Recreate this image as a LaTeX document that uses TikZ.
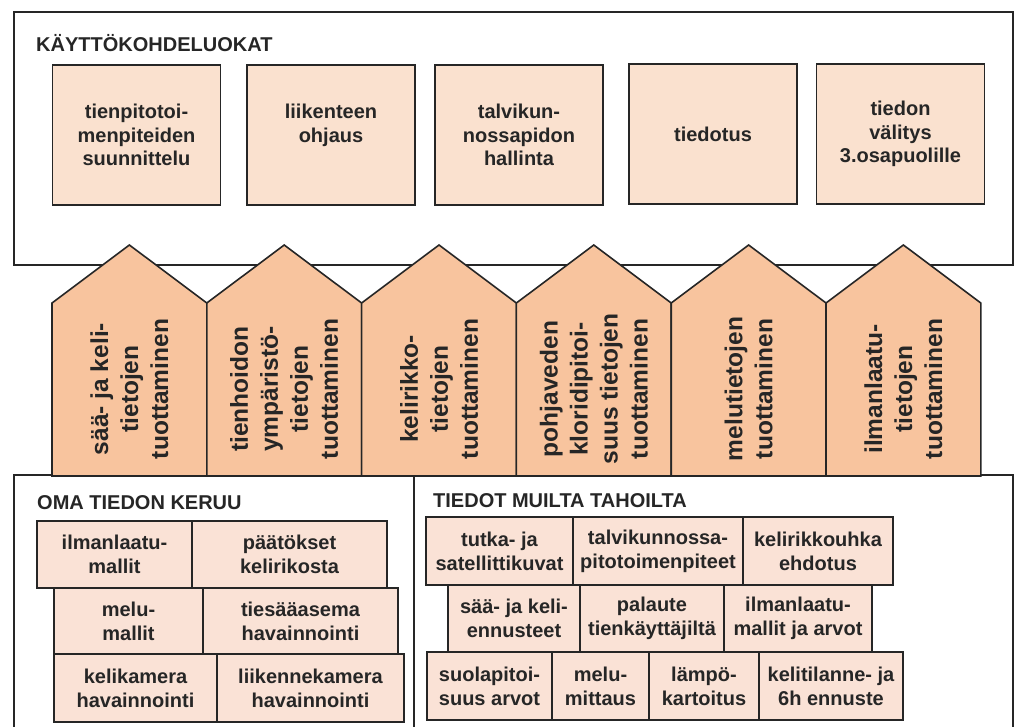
\documentclass[tikz,border=0pt]{standalone}
\usepackage{fontspec}
\setmainfont{Liberation Sans}
\definecolor{boxfill}{RGB}{250,225,207}
\definecolor{housefill}{RGB}{248,196,158}
\definecolor{brickfill}{RGB}{250,226,214}
\definecolor{edge}{RGB}{38,38,38}
\tikzstyle{frame}=[draw=edge,line width=1.6pt]
\tikzstyle{usebox}=[rectangle,draw=edge,line width=1.6pt,fill=boxfill,minimum width=168pt,minimum height=140pt,inner sep=0pt,align=center,text=edge,font=\fontsize{20}{23.5}\selectfont\bfseries]
\tikzstyle{house}=[draw=edge,line width=1.6pt,fill=housefill,line join=miter]
\tikzstyle{htext}=[rotate=90,align=center,inner sep=0pt,text=edge,font=\fontsize{24.5}{30}\selectfont\bfseries]
\tikzstyle{brick}=[rectangle,draw=edge,line width=1.6pt,fill=brickfill,inner sep=0pt,align=center,text=edge,font=\fontsize{20}{24}\selectfont\bfseries]
\tikzstyle{title}=[anchor=west,inner sep=0pt,text=edge,font=\fontsize{20}{24}\selectfont\bfseries]

\begin{document}
\begin{tikzpicture}[x=1pt,y=-1pt]
\useasboundingbox (0,0) rectangle (1017,727);
\draw[frame] (14,12) rectangle (1013,265);
\node[title] (top) at (36,43) {KÄYTTÖKOHDELUOKAT};
\node[usebox] (U1) at (136.5,135) {tienpitotoi-\\menpiteiden\\suunnittelu};
\node[usebox] (U2) at (331,135) {liikenteen\\ohjaus\\\mbox{}};
\node[usebox] (U3) at (519,135) {talvikun-\\nossapidon\\hallinta};
\node[usebox] (U4) at (713,134) {tiedotus};
\node[usebox] (U5) at (900.5,134) {tiedon\\välitys\\3.osapuolille};
\draw[frame] (14,727) |- (414,475) -- (414,727);
\draw[frame] (414,475) -| (1013,727);
\foreach \i in {0,...,5}
  \draw[house] (52+\i*154.8,476) -- (52+\i*154.8,303) -- (129.4+\i*154.8,245) -- (206.8+\i*154.8,303) -- (206.8+\i*154.8,476) -- cycle;
\node[htext] (H1) at (129.4,389) {sää- ja keli-\\tietojen\\tuottaminen};
\node[htext] (H2) at (284.2,389) {tienhoidon\\ympäristö-\\tietojen\\tuottaminen};
\node[htext] (H3) at (439,389) {kelirikko-\\tietojen\\tuottaminen};
\node[htext] (H4) at (593.8,389) {pohjaveden\\kloridipitoi-\\suus tietojen\\tuottaminen};
\node[htext] (H5) at (748.6,389) {melutietojen\\tuottaminen};
\node[htext] (H6) at (903.4,389) {ilmanlaatu-\\tietojen\\tuottaminen};
\node[title] (own) at (37,503) {OMA TIEDON KERUU};
\node[brick,minimum width=155pt,minimum height=67pt] (L1) at (114.5,554.5) {ilmanlaatu-\\mallit};
\node[brick,minimum width=195pt,minimum height=67pt] (L2) at (289.5,554.5) {päätökset\\kelirikosta};
\node[brick,minimum width=149pt,minimum height=66pt] (L3) at (128.5,621) {melu-\\mallit};
\node[brick,minimum width=195pt,minimum height=66pt] (L4) at (300.5,621) {tiesääasema\\havainnointi};
\node[brick,minimum width=163pt,minimum height=68pt] (L5) at (135.5,688) {kelikamera\\havainnointi};
\node[brick,minimum width=187pt,minimum height=68pt] (L6) at (310.5,688) {liikennekamera\\havainnointi};
\node[title] (other) at (433,501) {TIEDOT MUILTA TAHOILTA};
\node[brick,minimum width=147pt,minimum height=68pt] (R1) at (499.5,551) {tutka- ja\\satellittikuvat};
\node[brick,minimum width=170pt,minimum height=68pt] (R2) at (658,551) {talvikunnossa-\\pitotoimenpiteet};
\node[brick,minimum width=150pt,minimum height=68pt] (R3) at (818,551) {kelirikkouhka\\ehdotus};
\node[brick,minimum width=132pt,minimum height=67pt] (R4) at (514,618.5) {sää- ja keli-\\ennusteet};
\node[brick,minimum width=144pt,minimum height=67pt] (R5) at (652,618.5) {palaute\\tienkäyttäjiltä};
\node[brick,minimum width=148pt,minimum height=67pt] (R6) at (798,618.5) {ilmanlaatu-\\mallit ja arvot};
\node[brick,minimum width=125pt,minimum height=68pt] (R7) at (489.5,686) {suolapitoi-\\suus arvot};
\node[brick,minimum width=97pt,minimum height=68pt] (R8) at (600.5,686) {melu-\\mittaus};
\node[brick,minimum width=110pt,minimum height=68pt] (R9) at (704,686) {lämpö-\\kartoitus};
\node[brick,minimum width=144pt,minimum height=68pt] (R10) at (831,686) {kelitilanne- ja\\6h ennuste};
\end{tikzpicture}
\end{document}
